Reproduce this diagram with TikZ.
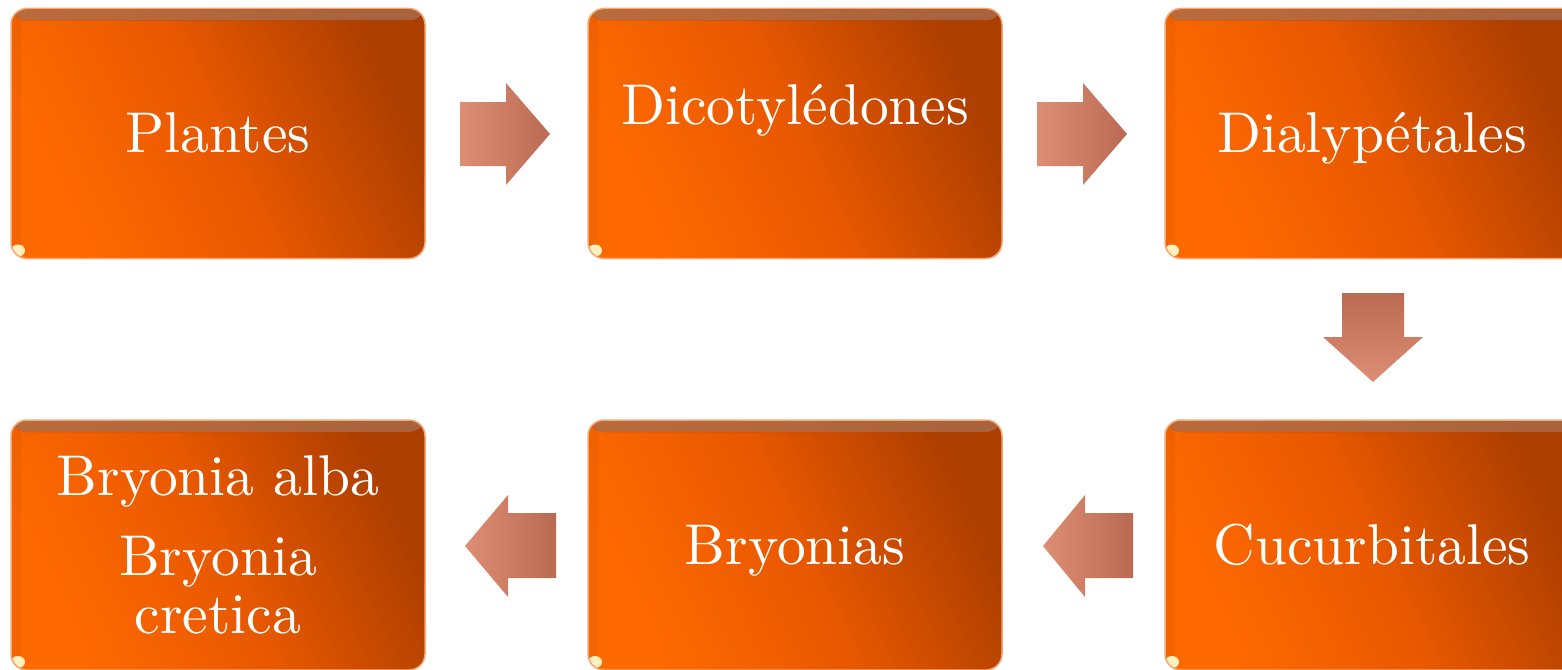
\documentclass[tikz,border=0pt]{standalone}
\usepackage{fontspec}
\newfontfamily\lmten[Extension=.otf]{lmroman10-regular}
\definecolor{orbright}{HTML}{FF6A00}
\definecolor{ormid}{HTML}{E85800}
\definecolor{ordark}{HTML}{AC3E00}
\definecolor{boxedge}{HTML}{F4A878}
\definecolor{hltop}{HTML}{F7A070}
\definecolor{hlbot}{HTML}{E46A30}
\definecolor{glint}{HTML}{FFF0C0}
\definecolor{arlight}{HTML}{DE8E74}
\definecolor{ardark}{HTML}{BA6A52}
\begin{document}
\begin{tikzpicture}[x=1pt,y=-1pt,
  box/.style={rounded corners=16pt, draw=boxedge, line width=1.5pt,
    left color=orbright, right color=ordark, middle color=ormid, shading angle=115,
    minimum width=414pt, minimum height=250pt, inner sep=0pt,
    path picture={
      \fill[top color=hltop, bottom color=hlbot, opacity=.55]
        ([yshift=-1pt]path picture bounding box.north west) rectangle
        ([yshift=-12pt]path picture bounding box.north east);
      \fill[ordark, opacity=.12]
        (path picture bounding box.north west) rectangle
        ([xshift=10pt]path picture bounding box.south west);
      \fill[glint] ([xshift=7pt,yshift=8pt]path picture bounding box.south west)
        ellipse (7pt and 6pt);
    }},
  lbl/.style={text=white, font=\lmten\fontsize{57.5}{66}\selectfont, anchor=base, inner sep=0pt},
  rarrow/.style={left color=arlight, right color=ardark, draw=none},
  larrow/.style={left color=arlight, right color=ardark, draw=none},
  darrow/.style={top color=ardark, bottom color=arlight, draw=none}
]
\clip (0,0) rectangle (1562,669);
\fill[white] (0,0) rectangle (1562,669);
% boxes
\node[box] (b1) at (218,133.5) {};
\node[box] (b2) at (795,133.5) {};
\node[box] (b3) at (1372,133.5) {};
\node[box] (b4) at (1372,545) {};
\node[box] (b5) at (795,545) {};
\node[box] (b6) at (218,545) {};
% labels
\node[lbl] (t1) at (218,152) {Plantes};
\node[lbl] (t2) at (795,124) {Dicotylédones};
\node[lbl] (t3) at (1372,152) {Dialypétales};
\node[lbl] (t4) at (1372,564) {Cucurbitales};
\node[lbl] (t5) at (795,564) {Bryonias};
\node[lbl] (t6a) at (218,495) {Bryonia alba};
\node[lbl] (t6b) at (218,575) {Bryonia};
\node[lbl] (t6c) at (218,633) {cretica};
% block arrows
\shade[rarrow] (460,102) -- (506,102) -- (506,83) -- (550,134) -- (506,185) -- (506,166) -- (460,166) -- cycle;
\shade[rarrow] (1037,102) -- (1083,102) -- (1083,83) -- (1127,134) -- (1083,185) -- (1083,166) -- (1037,166) -- cycle;
\shade[darrow] (1342,293) -- (1404,293) -- (1404,337) -- (1423,337) -- (1373,382) -- (1323,337) -- (1342,337) -- cycle;
\shade[larrow] (1133,513) -- (1085,513) -- (1085,495) -- (1043,546) -- (1085,597) -- (1085,578) -- (1133,578) -- cycle;
\shade[larrow] (556,513) -- (508,513) -- (508,495) -- (465,546) -- (508,597) -- (508,578) -- (556,578) -- cycle;
\end{tikzpicture}
\end{document}
